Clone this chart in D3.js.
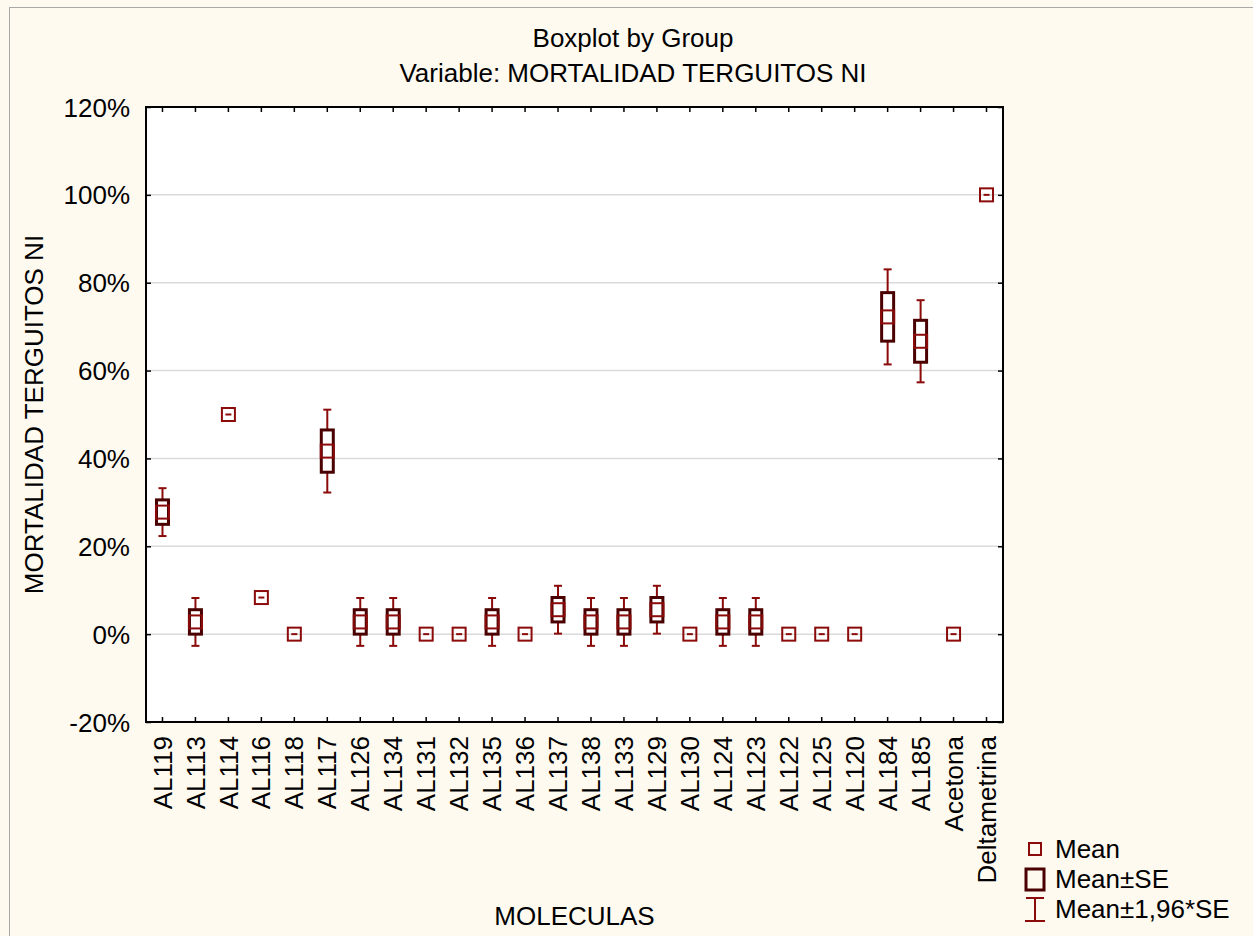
<!DOCTYPE html>
<html>
<head>
<meta charset="utf-8">
<script src="https://cdn.jsdelivr.net/npm/d3@7"></script>
<style>
  html, body { margin: 0; padding: 0; background: #fefaf0; }
  svg { display: block; font-family: "Liberation Sans", Arial, sans-serif; }
</style>
</head>
<body>
<svg id="chart" width="1253" height="936"></svg>
<script>
// Groups (molecules) along the x axis
const categories = ["AL119", "AL113", "AL114", "AL116", "AL118", "AL117", "AL126", "AL134",
  "AL131", "AL132", "AL135", "AL136", "AL137", "AL138", "AL133", "AL129", "AL130", "AL124",
  "AL123", "AL122", "AL125", "AL120", "AL184", "AL185", "Acetona", "Deltametrina"];

// Mean mortality per group (fraction)
const means = [0.2778, 0.0278, 0.50, 0.0833, 0, 0.4167, 0.0278, 0.0278,
  0, 0, 0.0278, 0, 0.0556, 0.0278, 0.0278, 0.0556, 0, 0.0278,
  0.0278, 0, 0, 0, 0.7222, 0.6667, 0, 1.00];

// Standard error per group (fraction)
const stdErrors = [0.0278, 0.0278, 0, 0, 0, 0.0481, 0.0278, 0.0278,
  0, 0, 0.0278, 0, 0.0278, 0.0278, 0.0278, 0.0278, 0, 0.0278,
  0.0278, 0, 0, 0, 0.0552, 0.0477, 0, 0];

const yTicks = [-0.2, 0, 0.2, 0.4, 0.6, 0.8, 1.0, 1.2];

const titleLines = ["Boxplot by Group", "Variable: MORTALIDAD TERGUITOS NI"];
const xTitle = "MOLECULAS";
const yTitle = "MORTALIDAD TERGUITOS NI";
const legendLabels = ["Mean", "Mean\u00B1SE", "Mean\u00B11,96*SE"];

const rows = categories.map((c, i) => ({ name: c, mean: means[i], se: stdErrors[i] }));

const svg = d3.select("#chart");
const W = 1253, H = 936;
const plot = { left: 146, right: 1003, top: 107, bottom: 722 };
const FONT = 26;
const meanColor = "#8b0a0a";
const boxColor = "#4a0000";

// Page background and outer frame
svg.append("rect").attr("x", 0).attr("y", 0).attr("width", W).attr("height", H).attr("fill", "#fefaf0");
svg.append("rect").attr("x", 9.5).attr("y", 7.5).attr("width", W + 20).attr("height", H + 20)
  .attr("fill", "none").attr("stroke", "#a8a8a8").attr("stroke-width", 1);

const x = d3.scaleBand().domain(categories).range([plot.left, plot.right]).padding(0);
const y = d3.scaleLinear().domain([-0.2, 1.2]).range([plot.bottom, plot.top]);
const cx = d => x(d) + x.bandwidth() / 2;

// Plot area
svg.append("rect").attr("x", plot.left).attr("y", plot.top)
  .attr("width", plot.right - plot.left).attr("height", plot.bottom - plot.top).attr("fill", "#ffffff");

// Horizontal gridlines
svg.append("g").selectAll("line").data(yTicks.slice(1, -1)).join("line")
  .attr("x1", plot.left).attr("x2", plot.right)
  .attr("y1", d => y(d)).attr("y2", d => y(d))
  .attr("stroke", "#dadada").attr("stroke-width", 1.5);

const pct = d => Math.round(d * 100) + "%";

// Axes with inward ticks
const gLeft = svg.append("g").attr("transform", `translate(${plot.left},0)`)
  .call(d3.axisLeft(y).tickValues(yTicks).tickFormat(pct).tickSizeInner(-5).tickSizeOuter(0).tickPadding(16));
const gRight = svg.append("g").attr("transform", `translate(${plot.right},0)`)
  .call(d3.axisRight(y).tickValues(yTicks).tickFormat("").tickSizeInner(-5).tickSizeOuter(0));
const gTop = svg.append("g").attr("transform", `translate(0,${plot.top})`)
  .call(d3.axisTop(x).tickFormat("").tickSizeInner(-5).tickSizeOuter(0));
const gBottom = svg.append("g").attr("transform", `translate(0,${plot.bottom})`)
  .call(d3.axisBottom(x).tickSizeInner(-5).tickSizeOuter(0));

[gLeft, gRight, gTop, gBottom].forEach(g => {
  g.select(".domain").remove();
  g.selectAll(".tick line").attr("stroke", "#000").attr("stroke-width", 1.5);
  g.selectAll("text").attr("font-family", "Liberation Sans, Arial, sans-serif")
    .attr("font-size", FONT).attr("fill", "#000");
});
gLeft.selectAll(".tick text").attr("dy", "0.35em");
gBottom.selectAll(".tick text")
  .attr("transform", "rotate(-90)")
  .attr("x", -14).attr("y", 0).attr("dy", "0.35em")
  .attr("text-anchor", "end");

// Plot frame
svg.append("rect").attr("x", plot.left).attr("y", plot.top)
  .attr("width", plot.right - plot.left).attr("height", plot.bottom - plot.top)
  .attr("fill", "none").attr("stroke", "#000").attr("stroke-width", 2);

// Marks: whiskers (mean ± 1.96 SE), boxes (mean ± SE), mean squares
const boxW = 12, capW = 8, meanS = 13;
const marks = svg.append("g");
const withSE = rows.filter(r => r.se > 0);

const wh = marks.selectAll("g.wh").data(withSE).join("g").attr("class", "wh")
  .attr("stroke", meanColor).attr("stroke-width", 2).attr("fill", "none");
wh.append("line").attr("x1", d => cx(d.name)).attr("x2", d => cx(d.name))
  .attr("y1", d => y(d.mean + 1.96 * d.se)).attr("y2", d => y(d.mean + d.se));
wh.append("line").attr("x1", d => cx(d.name)).attr("x2", d => cx(d.name))
  .attr("y1", d => y(d.mean - d.se)).attr("y2", d => y(d.mean - 1.96 * d.se));
wh.append("line").attr("x1", d => cx(d.name) - capW / 2).attr("x2", d => cx(d.name) + capW / 2)
  .attr("y1", d => y(d.mean + 1.96 * d.se)).attr("y2", d => y(d.mean + 1.96 * d.se));
wh.append("line").attr("x1", d => cx(d.name) - capW / 2).attr("x2", d => cx(d.name) + capW / 2)
  .attr("y1", d => y(d.mean - 1.96 * d.se)).attr("y2", d => y(d.mean - 1.96 * d.se));

marks.selectAll("rect.box").data(withSE).join("rect").attr("class", "box")
  .attr("x", d => cx(d.name) - boxW / 2).attr("width", boxW)
  .attr("y", d => y(d.mean + d.se)).attr("height", d => y(d.mean - d.se) - y(d.mean + d.se))
  .attr("fill", "#fff").attr("stroke", boxColor).attr("stroke-width", 3);

const mg = marks.selectAll("g.mean").data(rows).join("g").attr("class", "mean");
mg.append("rect")
  .attr("x", d => cx(d.name) - meanS / 2).attr("y", d => y(d.mean) - meanS / 2)
  .attr("width", meanS).attr("height", meanS)
  .attr("fill", "none").attr("stroke", meanColor).attr("stroke-width", 2);
// Centre dash only on groups without spread
mg.filter(d => d.se === 0).append("line")
  .attr("x1", d => cx(d.name) - 3).attr("x2", d => cx(d.name) + 3)
  .attr("y1", d => y(d.mean)).attr("y2", d => y(d.mean))
  .attr("stroke", meanColor).attr("stroke-width", 2);

// Titles
const title = svg.append("g").attr("font-size", FONT).attr("text-anchor", "middle").attr("fill", "#000");
title.append("text").attr("x", 633).attr("y", 47).text(titleLines[0]);
title.append("text").attr("x", 633).attr("y", 82).text(titleLines[1]);

svg.append("text").attr("x", (plot.left + plot.right) / 2).attr("y", 925)
  .attr("text-anchor", "middle").attr("font-size", FONT).text(xTitle);
svg.append("text")
  .attr("transform", `translate(43,${(plot.top + plot.bottom) / 2}) rotate(-90)`)
  .attr("text-anchor", "middle").attr("font-size", FONT).text(yTitle);

// Legend
const lg = svg.append("g").attr("font-size", FONT);
lg.append("rect").attr("x", 1029).attr("y", 843).attr("width", 12).attr("height", 12)
  .attr("fill", "none").attr("stroke", meanColor).attr("stroke-width", 2);
lg.append("rect").attr("x", 1026).attr("y", 869).attr("width", 18).attr("height", 21)
  .attr("fill", "none").attr("stroke", boxColor).attr("stroke-width", 3);
const ig = lg.append("g").attr("stroke", meanColor).attr("stroke-width", 2);
ig.append("line").attr("x1", 1035).attr("x2", 1035).attr("y1", 898).attr("y2", 921);
ig.append("line").attr("x1", 1026).attr("x2", 1044).attr("y1", 898).attr("y2", 898);
ig.append("line").attr("x1", 1025).attr("x2", 1045).attr("y1", 921).attr("y2", 921);
legendLabels.forEach((t, i) => {
  lg.append("text").attr("x", 1055).attr("y", 858 + i * 30).text(t);
});
</script>
</body>
</html>
